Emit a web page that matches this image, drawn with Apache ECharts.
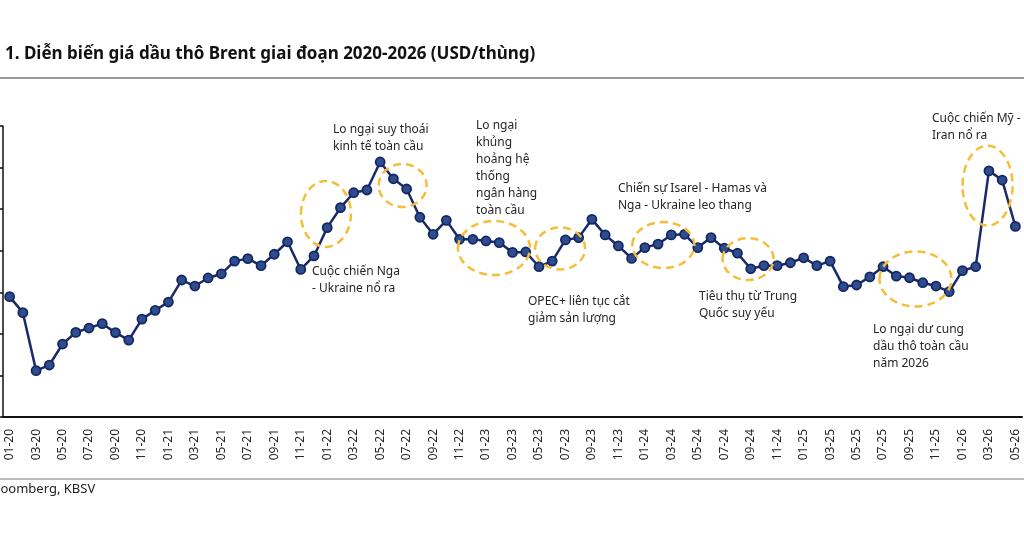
<!DOCTYPE html>
<html>
<head>
<meta charset="utf-8">
<script src="https://cdn.jsdelivr.net/npm/echarts@6/dist/echarts.min.js"></script>
<style>
  html, body { margin: 0; padding: 0; background: #fff; }
  #chart { width: 1024px; height: 538px; }
</style>
</head>
<body>
<div id="chart"></div>
<script>
// tháng (MM-YY), 01-20 .. 05-26
var months = [
  '01-20','02-20','03-20','04-20','05-20','06-20','07-20','08-20','09-20','10-20','11-20','12-20',
  '01-21','02-21','03-21','04-21','05-21','06-21','07-21','08-21','09-21','10-21','11-21','12-21',
  '01-22','02-22','03-22','04-22','05-22','06-22','07-22','08-22','09-22','10-22','11-22','12-22',
  '01-23','02-23','03-23','04-23','05-23','06-23','07-23','08-23','09-23','10-23','11-23','12-23',
  '01-24','02-24','03-24','04-24','05-24','06-24','07-24','08-24','09-24','10-24','11-24','12-24',
  '01-25','02-25','03-25','04-25','05-25','06-25','07-25','08-25','09-25','10-25','11-25','12-25',
  '01-26','02-26','03-26','04-26','05-26'
];

// giá Brent (USD/thùng)
var brent = [
  57.9, 50.2, 22.3, 25.0, 35.1, 40.7, 42.8, 44.9, 40.6, 37.0, 47.1, 51.3,
  55.3, 65.9, 63.0, 66.9, 68.9, 75.0, 76.2, 72.8, 78.3, 84.3, 71.0, 77.5,
  91.1, 100.7, 107.9, 109.2, 122.7, 114.6, 109.7, 96.1, 87.9, 94.6, 85.5, 85.5,
  84.7, 83.9, 79.2, 79.4, 72.3, 75.0, 85.2, 86.3, 95.1, 87.6, 82.3, 76.3,
  81.5, 83.2, 87.6, 87.9, 81.5, 86.3, 81.2, 78.8, 71.3, 72.8, 72.8, 74.2,
  76.6, 72.8, 75.0, 62.7, 63.5, 67.4, 72.3, 67.8, 67.0, 64.6, 63.0, 60.3,
  70.4, 72.3, 118.4, 114.0, 91.7
];

// vòng elip nét đứt: tâm [chỉ số tháng, giá], bán kính px
var circles = [
  { at: [23.9, 97.7], rx: 25, ry: 33 },
  { at: [29.7, 111.4], rx: 24, ry: 21.5 },
  { at: [36.6, 81.3], rx: 36, ry: 27 },
  { at: [41.6, 81.1], rx: 25, ry: 21 },
  { at: [49.4, 82.7], rx: 31, ry: 23 },
  { at: [55.8, 76.0], rx: 25.5, ry: 21 },
  { at: [68.45, 66.4], rx: 36, ry: 27.5 },
  { at: [73.9, 111.3], rx: 25, ry: 40 }
];

var notes = [
  { text: 'Lo ngại suy thoái\nkinh tế toàn cầu', left: 333, top: 121 },
  { text: 'Lo ngại\nkhủng\nhoảng hệ\nthống\nngân hàng\ntoàn cầu', left: 476, top: 117 },
  { text: 'Cuộc chiến Nga\n- Ukraine nổ ra', left: 312, top: 263 },
  { text: 'Chiến sự Isarel - Hamas và\nNga - Ukraine leo thang', left: 618, top: 180 },
  { text: 'OPEC+ liên tục cắt\ngiảm sản lượng', left: 528, top: 293 },
  { text: 'Tiêu thụ từ Trung\nQuốc suy yếu', left: 699, top: 288 },
  { text: 'Lo ngại dư cung\ndầu thô toàn cầu\nnăm 2026', left: 873, top: 321 },
  { text: 'Cuộc chiến Mỹ -\nIran nổ ra', left: 932, top: 110 }
];

var myChart = echarts.init(document.getElementById('chart'), null, { renderer: 'canvas' });
var font = '"Noto Sans", "DejaVu Sans", sans-serif';

myChart.setOption({
  backgroundColor: '#fff',
  animation: false,
  grid: { left: 3, right: 2, top: 126, bottom: 121, containLabel: false },
  xAxis: {
    type: 'category',
    data: months,
    boundaryGap: true,
    axisLine: { lineStyle: { color: '#111', width: 2 } },
    axisTick: { inside: true, length: 4, interval: 1, lineStyle: { color: '#111', width: 1.5 } },
    axisLabel: { interval: 1, rotate: 90, margin: 12, fontSize: 12, color: '#262626', fontFamily: font }
  },
  yAxis: {
    type: 'value',
    min: 0,
    max: 140,
    interval: 20,
    axisLine: { show: true, lineStyle: { color: '#111', width: 1.5 } },
    axisTick: { show: true, length: 4, lineStyle: { color: '#111', width: 1.5 } },
    axisLabel: { show: false },
    splitLine: { show: false }
  },
  series: [{
    type: 'line',
    data: brent,
    symbol: 'circle',
    symbolSize: 9,
    showAllSymbol: true,
    lineStyle: { color: '#19296a', width: 2.5 },
    itemStyle: { color: '#2f4d8c', borderColor: '#132764', borderWidth: 1.8 },
    z: 3
  }]
});

var graphics = [
  { type: 'text', left: 5, top: 46, style: { text: '1. Diễn biến giá dầu thô Brent giai đoạn 2020-2026 (USD/thùng)', font: 'bold 17px ' + font, fill: '#111' } },
  { type: 'line', shape: { x1: 0, y1: 78, x2: 1024, y2: 78 }, style: { stroke: '#777', lineWidth: 1.5 } },
  { type: 'line', shape: { x1: 0, y1: 479, x2: 1024, y2: 479 }, style: { stroke: '#777', lineWidth: 1 } },
  { type: 'text', x: -60, y: 483, style: { text: 'Nguồn: Bloomberg, KBSV', font: '13px ' + font, fill: '#222' } }
];

notes.forEach(function (n) {
  graphics.push({ type: 'text', left: n.left, top: n.top, z: 10,
    style: { text: n.text, font: '12px ' + font, fill: '#262626', lineHeight: 17 } });
});

function toPx(idx, val) {
  var i0 = Math.floor(idx), f = idx - i0;
  var a = myChart.convertToPixel({ gridIndex: 0 }, [i0, val]);
  var b = myChart.convertToPixel({ gridIndex: 0 }, [i0 + 1, val]);
  return [a[0] + (b[0] - a[0]) * f, a[1]];
}

circles.forEach(function (c) {
  var p = toPx(c.at[0], c.at[1]);
  graphics.push({ type: 'ellipse', z: 5,
    shape: { cx: p[0], cy: p[1], rx: c.rx, ry: c.ry },
    style: { fill: null, stroke: '#f4bd3a', lineWidth: 2.5, lineDash: [8, 5] } });
});

myChart.setOption({ graphic: graphics });
</script>
</body>
</html>
